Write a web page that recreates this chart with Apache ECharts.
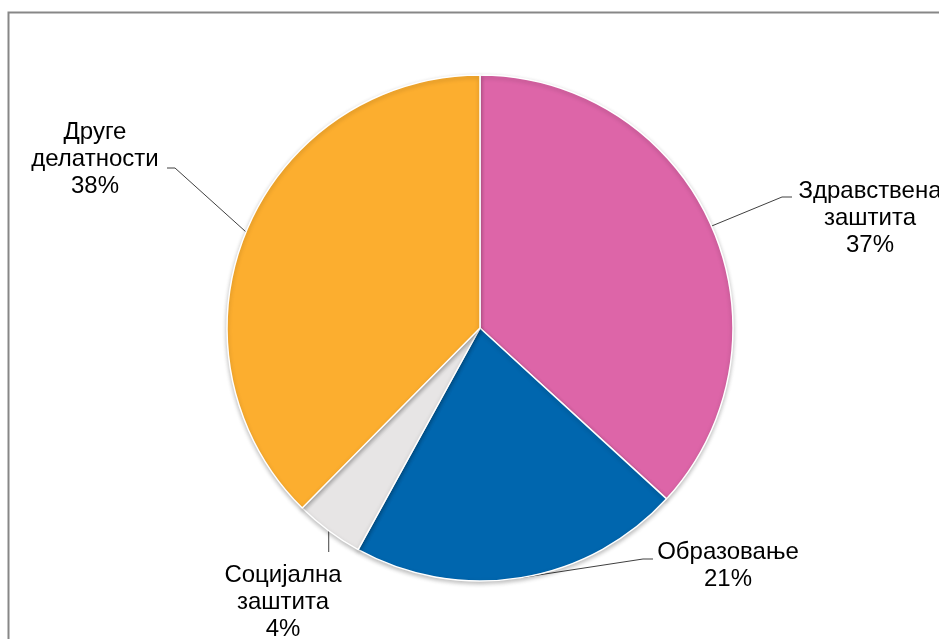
<!DOCTYPE html>
<html>
<head>
<meta charset="utf-8">
<script src="https://cdn.jsdelivr.net/npm/echarts@6/dist/echarts.min.js"></script>
<style>
html,body{margin:0;padding:0;background:#fff;}
#chart{width:939px;height:639px;}
</style>
</head>
<body>
<div id="chart"></div>
<script>
// Data
const categories = ['Здравствена заштита', 'Образовање', 'Социјална заштита', 'Друге делатности'];
const values = [36.8, 21.2, 4.4, 37.6];
const colors = ['#DD65A8', '#0066AE', '#E7E5E5', '#FCAE2F'];

// Label layout (positions only)
const labelCenters = [[870, 218], [728, 566], [283, 602], [95, 159]];
const guideEnds = [
  [[782, 197], [792, 197]],
  [[643, 559], [653, 559]],
  [null, 552],
  [[175, 168], [167, 168]]
];

const chart = echarts.init(document.getElementById('chart'));
const data = categories.map((c, i) => ({ name: c, value: values[i], itemStyle: { color: colors[i] } }));

chart.setOption({
  animation: false,
  backgroundColor: '#ffffff',
  graphic: [{
    type: 'rect',
    shape: { x: 8.5, y: 12.5, width: 960, height: 660 },
    style: { fill: 'none', stroke: '#878787', lineWidth: 2 },
    silent: true
  }],
  series: [{
    type: 'pie',
    center: [480, 328],
    radius: 253,
    startAngle: 90,
    clockwise: true,
    avoidLabelOverlap: false,
    data: data,
    itemStyle: {
      borderColor: '#ffffff',
      borderWidth: 1.5,
      shadowBlur: 4,
      shadowColor: 'rgba(0,0,0,0.25)',
      shadowOffsetY: 2
    },
    emphasis: { disabled: true },
    label: {
      show: true,
      position: 'outside',
      fontFamily: '"Liberation Sans", Arial, sans-serif',
      fontSize: 24,
      lineHeight: 27,
      color: '#000000',
      align: 'center',
      formatter: function (p) {
        return p.name.replace(' ', '\n') + '\n' + Math.round(p.percent) + '%';
      }
    },
    labelLine: {
      show: true,
      lineStyle: { color: '#404040', width: 1 }
    },
    labelLayout: function (params) {
      const i = params.dataIndex;
      const c = labelCenters[i];
      const p0 = params.labelLinePoints ? params.labelLinePoints[0] : null;
      const out = { x: c[0], y: c[1], align: 'center', verticalAlign: 'middle' };
      if (p0) {
        const g = guideEnds[i];
        if (g[0] === null) {
          out.labelLinePoints = [[p0[0], p0[1]], [p0[0], g[1]]];
        } else {
          out.labelLinePoints = [[p0[0], p0[1]], g[0], g[1]];
        }
      }
      return out;
    }
  }]
});
</script>
</body>
</html>
